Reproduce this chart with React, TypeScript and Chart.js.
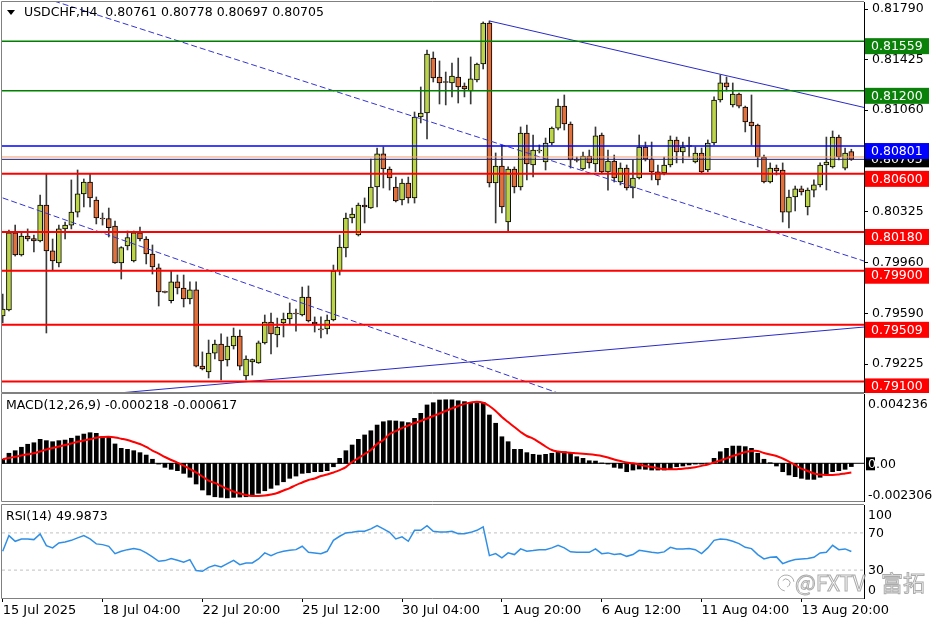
import React, { useEffect, useRef } from "react";
import { Chart, registerables } from "chart.js";

Chart.register(...registerables);

const FONT = '"DejaVu Sans", Verdana, sans-serif';

const TITLE = "USDCHF,H4  0.80761 0.80778 0.80697 0.80705";
const MACD_TITLE = "MACD(12,26,9) -0.000218 -0.000617";
const RSI_TITLE = "RSI(14) 49.9873";

const OPEN = [
  0.79573, 0.79616, 0.80173, 0.80014, 0.80151, 0.80133, 0.80115, 0.80375, 0.80043, 0.79956,
  0.80202, 0.8023, 0.80324, 0.80455, 0.80541, 0.80411, 0.80281, 0.80277, 0.80223, 0.79956,
  0.80079, 0.7997, 0.80173, 0.80129, 0.80021, 0.7992, 0.79746, 0.79683, 0.79819, 0.79775,
  0.79696, 0.79761, 0.79211, 0.79168, 0.79305, 0.7937, 0.79255, 0.79356, 0.79428, 0.79139,
  0.7924, 0.79233, 0.79378, 0.79529, 0.79436, 0.79522, 0.79551, 0.79591, 0.7958, 0.7971,
  0.79529, 0.79475, 0.79479, 0.79544, 0.79898, 0.80064, 0.80281, 0.80158, 0.80375, 0.80353,
  0.80505, 0.80744, 0.80635, 0.80505, 0.80411, 0.80534, 0.80426, 0.81011, 0.8104, 0.81437,
  0.813, 0.81264, 0.81257, 0.813, 0.81235, 0.81199, 0.81278, 0.81394, 0.8169, 0.80534,
  0.80657, 0.80252, 0.80635, 0.80505, 0.80895, 0.80664, 0.80765, 0.80686, 0.80823, 0.80931,
  0.8109, 0.8096, 0.807, 0.80635, 0.80729, 0.80671, 0.80881, 0.80614, 0.80693, 0.80541,
  0.80642, 0.80498, 0.8057, 0.80794, 0.80707, 0.80614, 0.80606, 0.80664, 0.80845, 0.80758,
  0.80801, 0.80686, 0.80751, 0.80628, 0.80823, 0.81134, 0.81257, 0.81098, 0.81177, 0.81083,
  0.80975, 0.80953, 0.80722, 0.80541, 0.80642, 0.80628, 0.80324, 0.80433, 0.80491, 0.80361,
  0.80483, 0.8052, 0.80664, 0.8065, 0.80866, 0.80642, 0.80761,
];
const HIGH = [
  0.79732, 0.80194, 0.8023, 0.80173, 0.80202, 0.80158, 0.80447, 0.80599, 0.80129, 0.8023,
  0.80252, 0.80556, 0.80628, 0.80563, 0.80599, 0.80433, 0.80317, 0.80353, 0.80259, 0.80074,
  0.80187, 0.80187, 0.80216, 0.80146, 0.80086, 0.79949, 0.79753, 0.79898, 0.79869, 0.79869,
  0.79819, 0.79819, 0.79313, 0.79399, 0.79399, 0.79443, 0.79421, 0.79486, 0.79472, 0.79284,
  0.79262, 0.79392, 0.7958, 0.79594, 0.79558, 0.79594, 0.79667, 0.79623, 0.79782, 0.7979,
  0.79566, 0.79566, 0.7958, 0.79941, 0.80158, 0.80317, 0.80353, 0.80389, 0.80426, 0.80707,
  0.80787, 0.80794, 0.8065, 0.80577, 0.80563, 0.80577, 0.81047, 0.81228, 0.81495, 0.81481,
  0.81416, 0.81336, 0.81401, 0.81437, 0.81257, 0.81445, 0.81401, 0.81698, 0.81705, 0.80751,
  0.80809, 0.8065, 0.8065, 0.80939, 0.80953, 0.80881, 0.80809, 0.80859, 0.80939, 0.81141,
  0.8117, 0.80975, 0.80722, 0.80758, 0.80772, 0.80939, 0.80895, 0.80772, 0.80736, 0.80679,
  0.80664, 0.807, 0.80881, 0.8083, 0.8083, 0.80664, 0.80722, 0.80874, 0.80866, 0.8083,
  0.80866, 0.80794, 0.80787, 0.80845, 0.81156, 0.81315, 0.813, 0.81257, 0.81184, 0.8109,
  0.8117, 0.8096, 0.80736, 0.80679, 0.80664, 0.80679, 0.80483, 0.80512, 0.80512, 0.80498,
  0.80556, 0.80679, 0.80866, 0.8091, 0.80881, 0.80787, 0.80778,
];
const LOW = [
  0.79522, 0.79609, 0.80006, 0.80006, 0.80115, 0.80035, 0.80108, 0.7945, 0.79905, 0.79927,
  0.80129, 0.80202, 0.80288, 0.80361, 0.80361, 0.80238, 0.8023, 0.80144, 0.79952, 0.7984,
  0.8005, 0.79963, 0.80115, 0.79949, 0.79876, 0.79645, 0.79739, 0.79667, 0.79732, 0.79638,
  0.7966, 0.79204, 0.79183, 0.79125, 0.79262, 0.7911, 0.79211, 0.79334, 0.79183, 0.7911,
  0.79146, 0.7923, 0.7937, 0.79298, 0.79349, 0.79421, 0.79515, 0.79464, 0.79573, 0.79529,
  0.79457, 0.79414, 0.79443, 0.79537, 0.79869, 0.79999, 0.80245, 0.80151, 0.80245, 0.8035,
  0.80361, 0.80498, 0.80483, 0.80397, 0.80375, 0.80389, 0.80389, 0.80968, 0.80852, 0.81264,
  0.81105, 0.81098, 0.81156, 0.81112, 0.81156, 0.81105, 0.81264, 0.81358, 0.80505, 0.80245,
  0.80317, 0.8018, 0.80462, 0.80483, 0.80556, 0.80577, 0.80751, 0.80628, 0.80809, 0.80917,
  0.80917, 0.80642, 0.80686, 0.80628, 0.80642, 0.80614, 0.80606, 0.80483, 0.80541, 0.8052,
  0.80483, 0.80426, 0.80563, 0.80693, 0.80556, 0.8052, 0.80592, 0.8065, 0.80679, 0.80679,
  0.80722, 0.80679, 0.80606, 0.80614, 0.80809, 0.81119, 0.81199, 0.81083, 0.81076, 0.80903,
  0.80809, 0.8065, 0.80534, 0.80534, 0.80592, 0.80252, 0.80209, 0.80332, 0.80447, 0.80303,
  0.80433, 0.80505, 0.80483, 0.80642, 0.807, 0.80628, 0.80697,
];
const CLOSE = [
  0.79623, 0.80173, 0.80014, 0.80151, 0.80129, 0.80115, 0.80375, 0.80043, 0.7997, 0.80202,
  0.8023, 0.80324, 0.80455, 0.80541, 0.80426, 0.80281, 0.80274, 0.80211, 0.79956, 0.80068,
  0.8014, 0.80173, 0.80129, 0.80021, 0.79927, 0.79746, 0.79744, 0.79819, 0.79775, 0.79696,
  0.79761, 0.79211, 0.7919, 0.79305, 0.7937, 0.79248, 0.79356, 0.79428, 0.79211, 0.79262,
  0.79258, 0.79378, 0.79529, 0.79443, 0.79493, 0.79551, 0.79594, 0.79587, 0.7971, 0.79537,
  0.79515, 0.79472, 0.79544, 0.79898, 0.80071, 0.80281, 0.8031, 0.80375, 0.80361, 0.80505,
  0.80744, 0.80635, 0.8057, 0.80404, 0.80534, 0.80426, 0.81011, 0.8104, 0.81466, 0.81293,
  0.81257, 0.8126, 0.81307, 0.81228, 0.81213, 0.81286, 0.81394, 0.8169, 0.80534, 0.80657,
  0.80361, 0.80635, 0.80505, 0.80895, 0.80671, 0.80772, 0.80769, 0.80823, 0.80931, 0.8109,
  0.8096, 0.807, 0.80697, 0.80729, 0.80679, 0.80874, 0.80614, 0.80693, 0.8057, 0.80642,
  0.80498, 0.8057, 0.80794, 0.80707, 0.80614, 0.80556, 0.80664, 0.80845, 0.80758, 0.80794,
  0.80798, 0.80751, 0.80614, 0.80823, 0.81134, 0.81257, 0.81228, 0.81177, 0.8109, 0.80975,
  0.80946, 0.80722, 0.80541, 0.80642, 0.80621, 0.80324, 0.80433, 0.80491, 0.80469, 0.80483,
  0.8052, 0.80664, 0.80686, 0.80866, 0.80722, 0.80751, 0.80705,
];

const MACD_MAIN = [
  0.00027, 0.00067, 0.00084, 0.00107, 0.00127, 0.00137, 0.0016, 0.00151, 0.00144, 0.00151,
  0.00155, 0.00167, 0.00182, 0.00195, 0.00204, 0.002, 0.00177, 0.00177, 0.00129, 0.001,
  0.00093, 0.00084, 0.00071, 0.00055, 0.00027, -0.00005, -0.00027, -0.0004, -0.00049, -0.00067,
  -0.00093, -0.00138, -0.00178, -0.00211, -0.00223, -0.00227, -0.002306, -0.00227, -0.00225, -0.00223,
  -0.00218, -0.002, -0.00183, -0.00167, -0.00145, -0.00123, -0.001, -0.00085, -0.00067, -0.00063,
  -0.00056, -0.00056, -0.00049, -0.00023, 0.00033, 0.00084, 0.00122, 0.0016, 0.00189, 0.00217,
  0.00255, 0.00277, 0.00284, 0.00282, 0.00277, 0.00271, 0.003, 0.00333, 0.00389, 0.00404,
  0.00422, 0.004236, 0.00423, 0.00417, 0.00411, 0.00404, 0.00404, 0.00406, 0.00322, 0.00267,
  0.00177, 0.00144, 0.00093, 0.00093, 0.00071, 0.0006, 0.00055, 0.0006, 0.00067, 0.00077,
  0.00077, 0.00067, 0.00044, 0.00033, 0.00017, 0.00015, 0.00002, -0.00005, -0.00027, -0.00033,
  -0.00056, -0.00045, -0.00038, -0.0004, -0.00045, -0.00045, -0.00045, -0.0004, -0.00023, -0.00018,
  -0.00011, -0.00005, -0.00005, 0.00001, 0.00033, 0.00077, 0.001, 0.00115, 0.00115, 0.00111,
  0.001, 0.00067, 0.00027, 0.00004, -0.00018, -0.00056, -0.00078, -0.00089, -0.001, -0.00107,
  -0.00107, -0.00093, -0.00078, -0.00056, -0.00049, -0.0004, -0.000218,
];
const MACD_SIGNAL = [
  0.00027, 0.00035, 0.00044, 0.00052, 0.0006, 0.00067, 0.00079, 0.00092, 0.00102, 0.00112,
  0.00122, 0.00132, 0.00144, 0.00152, 0.0016, 0.0017, 0.00175, 0.00177, 0.00172, 0.00164,
  0.00155, 0.00142, 0.00129, 0.00109, 0.00085, 0.00065, 0.00042, 0.00022, 0.00005, -0.00015,
  -0.00038, -0.00061, -0.00088, -0.00115, -0.00131, -0.00151, -0.00171, -0.00188, -0.00201, -0.00211,
  -0.00218, -0.00218, -0.00215, -0.00208, -0.00198, -0.00181, -0.00165, -0.00145, -0.00128, -0.00111,
  -0.00101, -0.00085, -0.00075, -0.00061, -0.00045, -0.00025, 0.00009, 0.00035, 0.00062, 0.00089,
  0.00129, 0.00155, 0.00195, 0.00215, 0.00235, 0.00252, 0.00269, 0.00282, 0.00299, 0.00315,
  0.00332, 0.00349, 0.00366, 0.00382, 0.00396, 0.00406, 0.00411, 0.00404, 0.00382, 0.00349,
  0.00309, 0.00275, 0.00242, 0.00209, 0.00182, 0.00165, 0.00139, 0.00112, 0.00089, 0.00079,
  0.00073, 0.00071, 0.00067, 0.00064, 0.0006, 0.00055, 0.00049, 0.00039, 0.00025, 0.00015,
  0.00005, 0.0, -0.00008, -0.00018, -0.00025, -0.00033, -0.00038, -0.0004, -0.00039, -0.00037,
  -0.00031, -0.00026, -0.00017, -0.00008, 0.00005, 0.00019, 0.00033, 0.00049, 0.00062, 0.00075,
  0.00082, 0.00082, 0.00069, 0.00059, 0.00049, 0.00032, 0.00011, -0.00011, -0.00035, -0.00051,
  -0.00068, -0.00075, -0.00078, -0.00078, -0.00074, -0.00068, -0.000617,
];
const RSI = [
  50.2, 67.1, 61.0, 63.5, 63.5, 62.8, 68.9, 56.3, 53.9, 59.2,
  60.3, 62.0, 64.6, 67.1, 63.5, 58.2, 57.4, 55.6, 47.7, 50.2,
  52.0, 53.1, 52.0, 48.5, 44.2, 39.5, 40.2, 42.4, 40.5, 38.4,
  41.3, 29.5, 28.7, 33.0, 35.2, 33.4, 37.0, 40.5, 35.9, 37.7,
  37.7, 42.0, 48.5, 45.6, 48.5, 50.2, 51.3, 52.0, 55.6, 49.1,
  48.5, 47.7, 50.2, 62.0, 66.4, 70.0, 70.6, 71.7, 71.7, 74.3,
  77.8, 74.3, 70.6, 63.5, 65.7, 61.0, 72.8, 72.8, 77.8, 71.7,
  71.1, 71.1, 71.7, 69.2, 69.2, 70.6, 72.8, 76.4, 45.6, 47.7,
  43.1, 48.5, 46.7, 52.8, 50.2, 51.0, 52.0, 52.0, 53.9, 56.7,
  53.9, 49.6, 49.1, 49.1, 49.1, 52.8, 47.7, 48.5, 46.7, 47.5,
  44.8, 46.7, 51.3, 50.2, 49.1, 48.5, 49.6, 54.5, 52.8, 52.8,
  53.1, 52.0, 47.7, 53.9, 62.0, 63.5, 62.8, 61.0, 58.5, 54.5,
  53.1, 46.7, 42.0, 43.8, 44.2, 37.0, 39.5, 41.3, 42.0, 42.4,
  43.8, 48.5, 49.1, 56.7, 52.0, 52.8, 49.99,
];
const RSI_LEVELS = [70, 30];

const TIME_TICKS = [0, 16, 32, 48, 64, 80, 96, 112, 128];
const TIME_LABELS = [
  "15 Jul 2025", "18 Jul 04:00", "22 Jul 20:00", "25 Jul 12:00", "30 Jul 04:00",
  "1 Aug 20:00", "6 Aug 12:00", "11 Aug 04:00", "13 Aug 20:00",
];
const PRICE_TICKS = [0.8179, 0.81425, 0.8106, 0.8069, 0.80325, 0.7996, 0.7959, 0.79225];
const MACD_LABELS = [0.004236, 0, -0.002306];
const RSI_LABELS = [100, 70, 30, 0];

const GREEN_LEVELS = [0.81559, 0.812];
const BLUE_LEVELS = [0.80801];
const RED_LEVELS = [0.806, 0.8018, 0.799, 0.79509, 0.791];
const BID = 0.80705;
const ASK = 0.80722;

// trend lines: anchor points (bar index, price)
const CHANNEL_UPPER_X = [0, 138.03];
const CHANNEL_UPPER_Y = [0.81968, 0.7997];
const CHANNEL_LOWER_X = [0, 100];
const CHANNEL_LOWER_Y = [0.80426, 0.78842];
const SUPPORT_X = [0, 138.03];
const SUPPORT_Y = [0.78942, 0.79493];
const RESIST_X = [78, 138.03];
const RESIST_Y = [0.81705, 0.8108];

const X_MIN = -0.112;
const X_MAX = 138.03;
const BULL = "#bcd44a";
const BEAR = "#e0703c";

const idx = OPEN.map((_, i) => i);

function frame(color: string) {
  return {
    id: "frame",
    afterDraw(chart: any) {
      const { ctx, chartArea: a } = chart;
      ctx.save();
      ctx.strokeStyle = color;
      ctx.lineWidth = 1;
      ctx.beginPath();
      ctx.moveTo(a.right, a.top - 0.5);
      ctx.lineTo(a.left - 0.5, a.top - 0.5);
      ctx.lineTo(a.left - 0.5, a.bottom + 0.5);
      ctx.lineTo(a.right, a.bottom + 0.5);
      ctx.stroke();
      ctx.restore();
    },
  };
}

function hline(v: number, color: string, width: number, dash: number[] = []) {
  return {
    type: "line" as const,
    data: [
      { x: X_MIN, y: v },
      { x: X_MAX, y: v },
    ],
    borderColor: color,
    borderWidth: width,
    borderDash: dash,
    pointRadius: 0,
    fill: false,
    order: 1,
  };
}

function seg(xs: number[], ys: number[], color: string, dash: number[] = []) {
  return {
    type: "line" as const,
    data: xs.map((x, k) => ({ x, y: ys[k] })),
    borderColor: color,
    borderWidth: 1,
    borderDash: dash,
    pointRadius: 0,
    fill: false,
    order: 1,
  };
}

const common = {
  animation: false as const,
  responsive: false,
  events: [] as any[],
  plugins: { legend: { display: false }, tooltip: { enabled: false } },
};

const yWidth = (s: any) => {
  s.width = 72;
  s.paddingTop = 0;
  s.paddingBottom = 0;
};

export default function App() {
  const mainRef = useRef<HTMLCanvasElement>(null);
  const macdRef = useRef<HTMLCanvasElement>(null);
  const rsiRef = useRef<HTMLCanvasElement>(null);

  useEffect(() => {
    const charts: Chart[] = [];

    const mainOverlay = {
      id: "mainOverlay",
      afterDraw(chart: any) {
        const { ctx } = chart;
        const y = chart.scales.y;
        ctx.save();
        ctx.fillStyle = "#000";
        ctx.beginPath();
        ctx.moveTo(7, 10);
        ctx.lineTo(15, 10);
        ctx.lineTo(11, 15);
        ctx.closePath();
        ctx.fill();
        ctx.font = `12.5px ${FONT}`;
        ctx.textBaseline = "middle";
        ctx.textAlign = "left";
        ctx.fillText(TITLE, 24, 13);
        const box = (v: number, bg: string, centered = false) => {
          const py = y.getPixelForValue(v);
          const top = centered ? py - 8 : py - 3;
          ctx.fillStyle = bg;
          ctx.fillRect(865, top, 64, 16);
          ctx.fillStyle = "#fff";
          ctx.fillText(v.toFixed(5), 871, top + 8.5);
        };
        box(BID, "#000", true);
        BLUE_LEVELS.forEach((v) => box(v, "#0000ff"));
        GREEN_LEVELS.forEach((v) => box(v, "#0a820a"));
        RED_LEVELS.forEach((v) => box(v, "#ff0000"));
        ctx.restore();
      },
    };

    const main = new Chart(mainRef.current!, {
      type: "bar",
      data: {
        datasets: [
          {
            type: "bar",
            data: idx.map((i) => ({ x: i, y: [LOW[i], HIGH[i]] })),
            backgroundColor: "#3a3a3a",
            borderWidth: 0,
            barThickness: 1,
            grouped: false,
            order: 3,
          } as any,
          {
            type: "bar",
            data: idx.map((i) => ({ x: i, y: [OPEN[i], CLOSE[i]] })),
            backgroundColor: idx.map((i) => (CLOSE[i] >= OPEN[i] ? BULL : BEAR)),
            borderColor: "#000",
            borderWidth: 1,
            borderSkipped: false,
            barThickness: 5,
            minBarLength: 1,
            grouped: false,
            order: 2,
          } as any,
          ...GREEN_LEVELS.map((v) => hline(v, "#008000", 1.5)),
          ...BLUE_LEVELS.map((v) => hline(v, "#0000ff", 1.5)),
          hline(ASK, "#f59a6e", 1),
          hline(BID, "#1e1e6e", 1),
          ...RED_LEVELS.map((v) => hline(v, "#ff0000", 2)),
          seg(CHANNEL_UPPER_X, CHANNEL_UPPER_Y, "#3434d2", [6, 3]),
          seg(CHANNEL_LOWER_X, CHANNEL_LOWER_Y, "#3434d2", [6, 3]),
          seg(SUPPORT_X, SUPPORT_Y, "#2a2ac8"),
          seg(RESIST_X, RESIST_Y, "#2a2ac8"),
        ] as any,
      },
      options: {
        ...common,
        layout: { padding: { left: 2, top: 2, right: 0, bottom: 1 } },
        scales: {
          x: { type: "linear", min: X_MIN, max: X_MAX, display: false, offset: false },
          y: {
            type: "linear",
            position: "right",
            min: 0.790235,
            max: 0.81842,
            beginAtZero: false,
            afterFit: yWidth,
            afterBuildTicks: (s: any) => {
              s.ticks = PRICE_TICKS.map((v) => ({ value: v }));
            },
            ticks: {
              callback: (v: any) => Number(v).toFixed(5),
              font: { family: FONT, size: 12.5 },
              color: "#000",
              padding: 4,
              autoSkip: false,
            },
            grid: { drawOnChartArea: false, drawTicks: true, tickLength: 4, color: "#000" },
            border: { display: true, color: "#000" },
          },
        } as any,
      },
      plugins: [frame("#808080"), mainOverlay],
    } as any);
    charts.push(main);

    const macdOverlay = {
      id: "macdOverlay",
      afterDraw(chart: any) {
        const { ctx, chartArea: a } = chart;
        const y = chart.scales.y;
        ctx.save();
        ctx.font = `12.5px ${FONT}`;
        ctx.textBaseline = "middle";
        ctx.textAlign = "left";
        ctx.fillStyle = "#000";
        ctx.fillText(MACD_TITLE, 6, 13);
        MACD_LABELS.forEach((v) => {
          let py = y.getPixelForValue(v);
          py = Math.min(Math.max(py, a.top + 9.5), a.bottom - 7);
          const txt = v === 0 ? "0.00" : String(v);
          ctx.fillStyle = "#000";
          ctx.fillText(txt, 868, py + 1.5);
          if (v === 0) {
            ctx.fillRect(866, py - 6, 9, 13);
            ctx.fillStyle = "#fff";
            ctx.fillText("0", 868, py + 1.5);
          }
        });
        ctx.restore();
      },
    };

    const macd = new Chart(macdRef.current!, {
      type: "bar",
      data: {
        datasets: [
          {
            type: "line",
            data: [
              { x: X_MIN, y: 0 },
              { x: X_MAX, y: 0 },
            ],
            borderColor: "#000",
            borderWidth: 1,
            pointRadius: 0,
            order: 3,
          },
          {
            type: "bar",
            data: idx.map((i) => ({ x: i, y: MACD_MAIN[i] })),
            backgroundColor: "#000",
            borderWidth: 0,
            barThickness: 4,
            grouped: false,
            order: 2,
          },
          {
            type: "line",
            data: idx.map((i) => ({ x: i, y: MACD_SIGNAL[i] })),
            borderColor: "#ff0000",
            borderWidth: 2,
            pointRadius: 0,
            tension: 0.4,
            order: 1,
          },
        ] as any,
      },
      options: {
        ...common,
        layout: { padding: { left: 2, top: 1, right: 0, bottom: 1 } },
        scales: {
          x: { type: "linear", min: X_MIN, max: X_MAX, display: false, offset: false },
          y: {
            type: "linear",
            position: "right",
            min: -0.002513,
            max: 0.00462,
            beginAtZero: false,
            afterFit: yWidth,
            ticks: { display: false },
            grid: { display: false },
            border: { display: true, color: "#000" },
          },
        } as any,
      },
      plugins: [frame("#808080"), macdOverlay],
    } as any);
    charts.push(macd);

    const rsiOverlay = {
      id: "rsiOverlay",
      afterDraw(chart: any) {
        const { ctx, chartArea: a } = chart;
        const y = chart.scales.y;
        ctx.save();
        ctx.font = `12.5px ${FONT}`;
        ctx.textBaseline = "middle";
        ctx.textAlign = "left";
        ctx.fillStyle = "#000";
        ctx.fillText(RSI_TITLE, 6, 15);
        RSI_LABELS.forEach((v) => {
          let py = y.getPixelForValue(v);
          py = Math.min(Math.max(py, a.top + 10), a.bottom - 8);
          ctx.fillText(String(v), 868, py + 0.5);
        });
        // watermark
        ctx.lineWidth = 1;
        ctx.strokeStyle = "rgba(150,150,150,0.8)";
        ctx.fillStyle = "rgba(255,255,255,0.6)";
        ctx.font = `22px "Noto Sans CJK SC", ${FONT}`;
        ctx.textBaseline = "alphabetic";
        ctx.fillText("@FXTV", 795, 89);
        ctx.strokeText("@FXTV", 795, 89);
        ctx.fillText("富拓", 881, 89);
        ctx.strokeText("富拓", 881, 89);
        ctx.beginPath();
        ctx.arc(786, 81, 8, 0.55 * Math.PI, 1.95 * Math.PI);
        ctx.stroke();
        ctx.beginPath();
        ctx.arc(786, 81, 4, 1.2 * Math.PI, 2.4 * Math.PI);
        ctx.stroke();
        ctx.restore();
      },
    };

    const rsi = new Chart(rsiRef.current!, {
      type: "line",
      data: {
        datasets: [
          ...RSI_LEVELS.map((v) => hline(v, "#c0c0c0", 1, [3, 3])),
          {
            type: "line",
            data: idx.map((i) => ({ x: i, y: RSI[i] })),
            borderColor: "#2f8fe6",
            borderWidth: 1.5,
            pointRadius: 0,
            tension: 0,
            order: 0,
          },
        ] as any,
      },
      options: {
        ...common,
        layout: { padding: { left: 2, top: 3, right: 0, bottom: 0 } },
        scales: {
          x: {
            type: "linear",
            position: "bottom",
            min: X_MIN,
            max: X_MAX,
            offset: false,
            afterBuildTicks: (s: any) => {
              s.ticks = TIME_TICKS.map((v) => ({ value: v }));
            },
            afterFit: (s: any) => {
              s.height = 26;
              s.paddingLeft = 0;
              s.paddingRight = 0;
            },
            ticks: {
              callback: (v: any) => TIME_LABELS[TIME_TICKS.indexOf(Number(v))],
              align: "start",
              autoSkip: false,
              maxRotation: 0,
              minRotation: 0,
              padding: 1,
              font: { family: FONT, size: 13 },
              color: "#000",
            },
            grid: { drawOnChartArea: false, drawTicks: true, tickLength: 4, color: "#000" },
            border: { display: false },
          },
          y: {
            type: "linear",
            position: "right",
            min: 0,
            max: 100,
            afterFit: yWidth,
            ticks: { display: false },
            grid: { display: false },
            border: { display: true, color: "#000" },
          },
        } as any,
      },
      plugins: [frame("#808080"), rsiOverlay],
    } as any);
    charts.push(rsi);

    return () => charts.forEach((c) => c.destroy());
  }, []);

  return (
    <div
      style={{
        position: "fixed",
        left: 0,
        top: 0,
        width: 936,
        height: 624,
        background: "#fff",
        overflow: "hidden",
      }}
    >
      <canvas ref={mainRef} width={936} height={393} style={{ position: "absolute", left: 0, top: 0 }} />
      <canvas ref={macdRef} width={936} height={109} style={{ position: "absolute", left: 0, top: 393 }} />
      <canvas ref={rsiRef} width={936} height={122} style={{ position: "absolute", left: 0, top: 502 }} />
    </div>
  );
}
